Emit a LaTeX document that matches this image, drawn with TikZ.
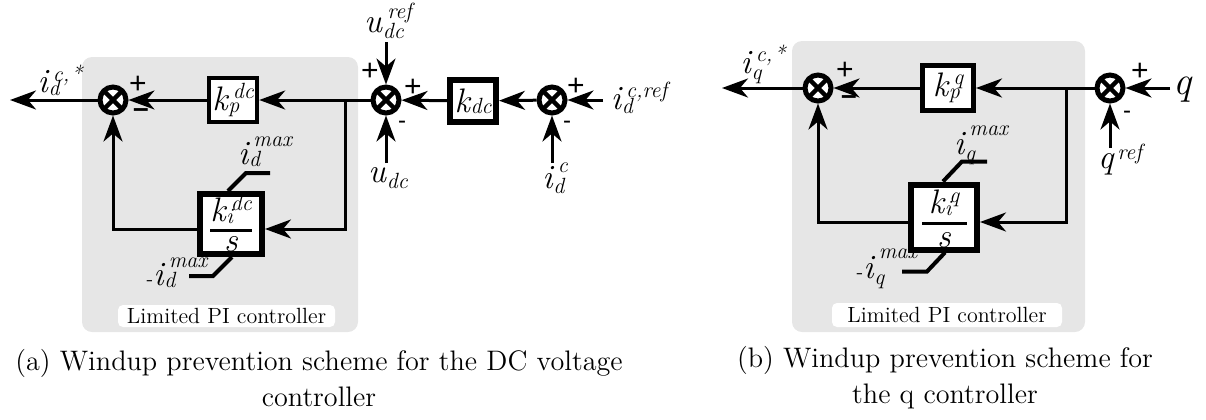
\documentclass[tikz,border=0pt]{standalone}
\usepackage{fontspec}
\usetikzlibrary{arrows.meta}
\newfontfamily\signfont{Liberation Sans}
\definecolor{pigray}{RGB}{230,230,230}
\newcommand\Ib[1]{\mbox{\rmfamily\itshape\fontsize{17}{17}\selectfont #1}}
\newcommand\Sc[1]{\mbox{\rmfamily\itshape\fontsize{11}{11}\selectfont #1}}
% base, sub, sup, sup raise, sub drop
\newcommand\lbl[5]{\Ib{#1}\kern0.4pt\ooalign{\kern2.2pt\raisebox{#4}{\Sc{#3}}\cr\raisebox{-#5}{\Sc{#2}}\cr}}
\tikzset{
  conn/.style={line width=1.5pt},
  arr/.style={conn, -{Stealth[length=13pt,width=9.5pt,inset=4pt]}},
  sumj/.style={circle, draw, line width=2.5pt, minimum size=13pt, inner sep=0pt, fill=white,
    path picture={\draw[line width=2.2pt] (path picture bounding box.north west) -- (path picture bounding box.south east)
      (path picture bounding box.north east) -- (path picture bounding box.south west);}},
  blk/.style={draw, fill=white, inner sep=0pt},
  lim/.style={line width=2pt},
  lab/.style={inner sep=0pt},
  plussign/.style={inner sep=0pt, font=\signfont\fontsize{15}{15}\selectfont},
  minussign/.style={inner sep=0pt, font=\signfont\bfseries\fontsize{14}{14}\selectfont},
  smallminus/.style={inner sep=0pt, font=\signfont\fontsize{12}{12}\selectfont},
  limlabel/.style={fill=white, rounded corners=2.5pt, inner sep=0pt, font=\rmfamily\fontsize{11}{11}\selectfont},
  caption/.style={align=center, inner sep=0pt, font=\fontsize{14.1}{18}\selectfont},
  grayarea/.style={fill=pigray, rounded corners=5pt}
}
\begin{document}
\begin{tikzpicture}[x=0.5pt,y=-0.5pt]
\useasboundingbox (0,0) rectangle (1206,419);
% ---------------- (a) ----------------
\fill[grayarea] (82,57) rectangle (358,332);
\node[limlabel, minimum width=108.5pt, minimum height=11pt] (limA) at (226.5,316) {Limited PI controller};

\node[sumj] (s1) at (113,100) {};
\coordinate (out1) at (10,100);
\node[lab] (lo1) at (60,80) {\lbl{i}{d}{c,\kern1pt*}{5.5pt}{1.5pt}};
\node[plussign] (p1) at (138,85) {+};
\node[minussign] (m1) at (141,113) {–};

\node[blk, line width=2.2pt, minimum width=24pt, minimum height=22pt] (kp) at (233,100) {\lbl{k}{p}{dc}{6pt}{1pt}};

\node[blk, line width=3pt, minimum width=31pt, minimum height=30pt] (ki) at (231,224) {};
\node[lab] (kinum) at (231,209) {\lbl{k}{i}{dc}{5.5pt}{1pt}};
\draw[line width=1.5pt] (210,230) -- (252,230);
\node[lab] (kis) at (231,244) {\Ib{s}};

\node[lab] (imaxA) at (265,152) {\lbl{i}{d}{max}{9pt}{1pt}};
\node[lab] (nimaxA) at (177,273) {-\lbl{i}{d}{max}{9pt}{1pt}};
\draw[lim] (ki.north) ++(-3,0) -- ++(18,-18) -- ++(24,0);
\draw[lim] (ki.south) ++(1,0) -- ++(-19,19) -- ++(-24,0);

\node[sumj] (j2) at (386,100) {};
\node[plussign] (p2) at (370,72) {+};
\node[plussign] (p3) at (413,88) {+};
\node[smallminus] (m2) at (402,125) {-};
\node[lab] (udcref) at (388,21) {\lbl{u}{dc}{ref}{7pt}{3pt}};
\coordinate (udcrefin) at (386,42);
\node[lab] (udc) at (388,178) {\lbl{u}{dc}{}{0pt}{3pt}};
\coordinate (udcin) at (386,163);

\node[blk, line width=3pt, minimum width=23pt, minimum height=21pt] (kdc) at (473,101) {\lbl{k}{dc}{}{0pt}{0.5pt}};

\node[sumj] (j3) at (552,100) {};
\node[plussign] (p4) at (576,87) {+};
\node[smallminus] (m3) at (567,125) {-};
\node[lab] (idcref) at (639,98) {\lbl{i}{d}{c,ref}{6pt}{2pt}};
\coordinate (idcrefin) at (603,100);
\node[lab] (idc) at (555,178) {\lbl{i}{d}{c}{8pt}{2.5pt}};
\coordinate (idcin) at (552,163);

\coordinate (b1) at (345,100);
\coordinate (b1d) at (345,229);
\coordinate (c1) at (113,229);

\draw[arr] (s1) -- (out1);
\draw[arr] (kp) -- (s1);
\draw[arr] (j2) -- (kp);
\draw[arr] (b1) -- (b1d) -- (b1d -| ki.east);
\draw[arr] (b1d -| ki.west) -- (c1) -- (s1);
\draw[arr] (udcrefin) -- (j2);
\draw[arr] (udcin) -- (j2);
\draw[arr] (kdc) -- (j2);
\draw[arr] (j3) -- (kdc);
\draw[arr] (idcrefin) -- (j3);
\draw[arr] (idcin) -- (j3);

\node[caption] (capA) at (319,378) {(a) Windup prevention scheme for the DC voltage\\controller};

% ---------------- (b) ----------------
\fill[grayarea] (792,41) rectangle (1085,332);
\node[limlabel, minimum width=115pt, minimum height=12pt] (limB) at (947,315) {Limited PI controller};

\node[sumj] (s4) at (818,88) {};
\coordinate (out2) at (722,88);
\node[lab] (lo2) at (763,64) {\lbl{i}{q}{c,\kern1pt*}{6pt}{3pt}};
\node[plussign] (p5) at (845,71) {+};
\node[minussign] (m4) at (849,100) {–};

\node[blk, line width=2.5pt, minimum width=25.5pt, minimum height=22.5pt] (kpq) at (948,88) {\lbl{k}{p}{q}{6pt}{1pt}};

\node[blk, line width=3pt, minimum width=33pt, minimum height=32.5pt] (kiq) at (944,217) {};
\node[lab] (kiqnum) at (944,203) {\lbl{k}{i}{q}{5.5pt}{1pt}};
\draw[line width=1.5pt] (922,223) -- (967,223);
\node[lab] (kiqs) at (944,240) {\Ib{s}};

\node[lab] (imaxB) at (981,145) {\lbl{i}{q}{max}{9.5pt}{3pt}};
\node[lab] (nimaxB) at (887,269) {-\lbl{i}{q}{max}{10pt}{3pt}};
\draw[lim] (kiq.north) ++(-1,0) -- ++(19,-20) -- ++(25,0);
\draw[lim] (kiq.south) ++(1,0) -- ++(-18,19) -- ++(-25,0);

\node[sumj] (j5) at (1110,88) {};
\node[plussign] (p6) at (1140,72) {+};
\node[smallminus] (m5) at (1127,115) {-};
\node[lab] (q) at (1182,90) {\mbox{\rmfamily\itshape\fontsize{20}{20}\selectfont q}};
\coordinate (qin) at (1170,88);
\node[lab] (qref) at (1120,160) {\Ib{q}\kern2pt\raisebox{4.5pt}{\Sc{ref}}};
\coordinate (qrefin) at (1110,148);

\coordinate (b2) at (1066,88);
\coordinate (b2d) at (1066,222);
\coordinate (c2) at (818,222);

\draw[arr] (s4) -- (out2);
\draw[arr] (kpq) -- (s4);
\draw[arr] (j5) -- (kpq);
\draw[arr] (b2) -- (b2d) -- (b2d -| kiq.east);
\draw[arr] (b2d -| kiq.west) -- (c2) -- (s4);
\draw[arr] (qin) -- (j5);
\draw[arr] (qrefin) -- (j5);

\node[caption] (capB) at (945,378) {(b) Windup prevention scheme for\\the q controller};
\end{tikzpicture}
\end{document}
